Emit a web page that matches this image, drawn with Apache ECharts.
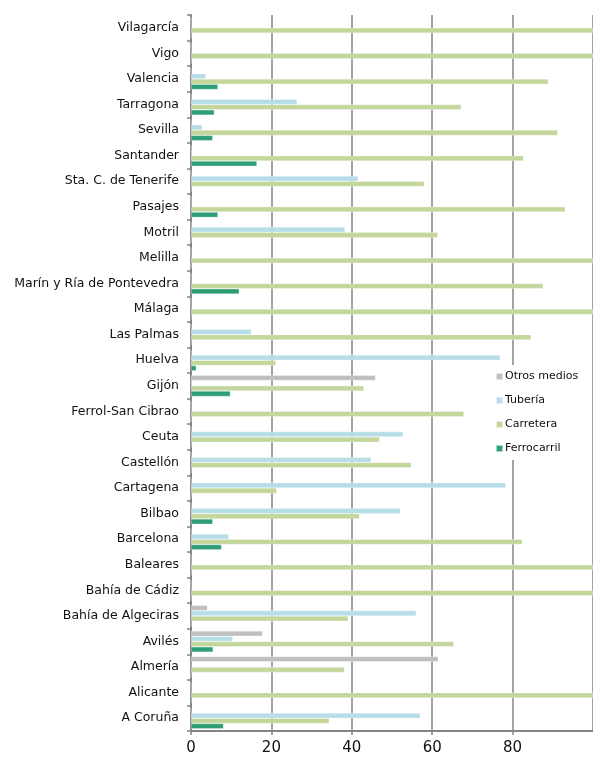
<!DOCTYPE html>
<html>
<head>
    <meta charset="UTF-8">
    <title>Puertos</title>
    <style type="text/css">
        html, body {
            margin: 0;
            padding: 0;
            background: #ffffff;
        }

        #chart {
            width: 593px;
            height: 758px;
        }
    </style>
    <script type="text/javascript" src="https://cdn.jsdelivr.net/npm/echarts@6/dist/echarts.min.js"></script>
</head>
<body>
<div id="chart"></div>
<script type="text/javascript">
    // categorias, de abajo a arriba
    var puertos = ['A Coruña', 'Alicante', 'Almería', 'Avilés', 'Bahía de Algeciras', 'Bahía de Cádiz', 'Baleares',
        'Barcelona', 'Bilbao', 'Cartagena', 'Castellón', 'Ceuta', 'Ferrol-San Cibrao', 'Gijón', 'Huelva', 'Las Palmas',
        'Málaga', 'Marín y Ría de Pontevedra', 'Melilla', 'Motril', 'Pasajes', 'Sta. C. de Tenerife', 'Santander',
        'Sevilla', 'Tarragona', 'Valencia', 'Vigo', 'Vilagarcía'];

    var otrosMedios = [0, 0, 61.5, 17.8, 4.1, 0, 0, 0, 0, 0, 0, 0, 0, 45.9, 0, 0,
        0, 0, 0, 0, 0, 0, 0, 0, 0, 0, 0, 0];
    var tuberia = [57.0, 0, 0, 10.4, 56.0, 0, 0, 9.4, 52.1, 78.3, 44.8, 52.8, 0, 0.3, 76.9, 15.0,
        0, 0, 0, 38.3, 0, 41.6, 0.3, 2.8, 26.4, 3.7, 0, 0];
    var carretera = [34.4, 100, 38.2, 65.4, 39.1, 100, 100, 82.4, 41.9, 21.3, 54.8, 46.9, 67.9, 43.0, 21.1, 84.6,
        100, 87.6, 100, 61.4, 93.1, 58.0, 82.7, 91.2, 67.2, 88.9, 100, 100];
    var ferrocarril = [8.1, 0.3, 0, 5.5, 0, 0, 0, 7.6, 5.4, 0, 0, 0, 0, 9.8, 1.3, 0,
        0, 12.0, 0, 0, 6.7, 0, 16.4, 5.4, 5.8, 6.7, 0, 0];

    var xTicks = [0, 20, 40, 60, 80];

    var chart = echarts.init(document.getElementById('chart'));

    function serie(name, data, color) {
        return {
            name: name,
            type: 'bar',
            data: data,
            barGap: '0%',
            barCategoryGap: '17%',
            itemStyle: {color: color, borderColor: 'rgba(255,255,255,0.6)', borderWidth: 0.5},
            emphasis: {disabled: true}
        };
    }

    var option = {
        animation: false,
        backgroundColor: '#ffffff',
        textStyle: {fontFamily: 'DejaVu Sans'},
        grid: {
            left: 191,
            right: -8,
            top: 15,
            bottom: 27,
            containLabel: false
        },
        legend: {
            orient: 'vertical',
            left: 489,
            top: 365,
            padding: 6,
            itemGap: 13,
            itemWidth: 7,
            itemHeight: 7,
            icon: 'rect',
            backgroundColor: '#ffffff',
            data: ['Otros medios', 'Tubería', 'Carretera', 'Ferrocarril'],
            textStyle: {fontSize: 11, color: '#111111', fontFamily: 'DejaVu Sans', padding: [0, 0, 0, -3]}
        },
        xAxis: {
            type: 'value',
            min: 0,
            max: 100,
            interval: 20,
            axisLine: {show: true, lineStyle: {color: '#858585', width: 2}},
            axisTick: {show: true, length: 4, lineStyle: {color: '#858585', width: 1.5}},
            splitLine: {show: true, lineStyle: {color: '#858585', width: 1.5}},
            axisLabel: {
                fontSize: 15,
                color: '#111111',
                margin: 10,
                showMaxLabel: false,
                formatter: function (v) {
                    return xTicks.indexOf(v) >= 0 ? String(v) : '';
                }
            }
        },
        yAxis: {
            type: 'category',
            data: puertos,
            axisLine: {show: true, lineStyle: {color: '#858585', width: 2}},
            axisTick: {show: true, length: 4, alignWithLabel: false, lineStyle: {color: '#858585', width: 1.5}},
            axisLabel: {fontSize: 12.5, color: '#111111', margin: 12, interval: 0}
        },
        series: [
            serie('Otros medios', otrosMedios, '#bfbfbf'),
            serie('Tubería', tuberia, '#b7dde8'),
            serie('Carretera', carretera, '#c3d69b'),
            serie('Ferrocarril', ferrocarril, '#2f9e77')
        ]
    };
    chart.setOption(option);
</script>
</body>
</html>
